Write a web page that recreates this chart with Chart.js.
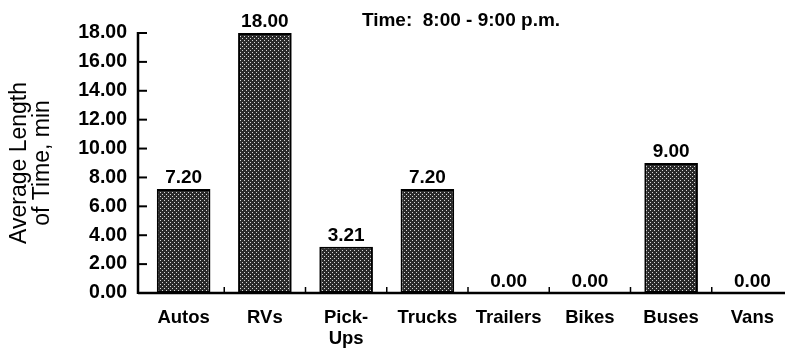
<!DOCTYPE html>
<html>
<head>
<meta charset="utf-8">
<script src="https://cdn.jsdelivr.net/npm/chart.js@4/dist/chart.umd.min.js"></script>
<style>
  html, body { margin: 0; padding: 0; background: #fff; overflow: hidden; }
  #wrap { position: relative; width: 795px; height: 356px; }
</style>
</head>
<body>
<div id="wrap"><canvas id="chart"></canvas></div>
<script>
// Average length of stay by vehicle type, 8:00 - 9:00 p.m.
const categories = ['Autos', 'RVs', 'Pick-Ups', 'Trucks', 'Trailers', 'Bikes', 'Buses', 'Vans'];
const tickLabels = ['Autos', 'RVs', ['Pick-', 'Ups'], 'Trucks', 'Trailers', 'Bikes', 'Buses', 'Vans'];
const avgMinutes = [7.20, 18.00, 3.21, 7.20, 0.00, 0.00, 9.00, 0.00];
const yTicks = [0, 2, 4, 6, 8, 10, 12, 14, 16, 18];
const chartTitle = 'Time:  8:00 - 9:00 p.m.';
const yTitle = ['Average Length', 'of Time, min'];

const FONT = '"Liberation Sans", Arial, Helvetica, sans-serif';

// halftone-like dotted fill for the bars
function makeDotPattern() {
  const c = document.createElement('canvas');
  c.width = 4; c.height = 4;
  const g = c.getContext('2d');
  g.fillStyle = '#2a2a2a';
  g.fillRect(0, 0, 4, 4);
  g.fillStyle = '#d8d8d8';
  g.fillRect(0, 0, 1, 1);
  g.fillRect(2, 2, 1, 1);
  return g.createPattern(c, 'repeat');
}

// axes with inward ticks, value labels above bars and the heading
const decorations = {
  id: 'decorations',
  afterDatasetsDraw(chart) {
    const { ctx, chartArea } = chart;
    const x = chart.scales.x, y = chart.scales.y;
    const axisX = chartArea.left - 5;
    const baseY = y.getPixelForValue(0);
    ctx.save();
    ctx.strokeStyle = '#000';
    ctx.lineCap = 'butt';

    // y axis line and inward ticks
    ctx.lineWidth = 2.5;
    ctx.beginPath();
    ctx.moveTo(axisX, y.getPixelForValue(yTicks[yTicks.length - 1]) - 1);
    ctx.lineTo(axisX, baseY + 1);
    ctx.stroke();
    ctx.lineWidth = 2;
    yTicks.forEach(v => {
      const py = y.getPixelForValue(v);
      ctx.beginPath();
      ctx.moveTo(axisX, py);
      ctx.lineTo(axisX + 9, py);
      ctx.stroke();
    });

    // x axis line
    ctx.lineWidth = 2.5;
    ctx.beginPath();
    ctx.moveTo(axisX, baseY);
    ctx.lineTo(chart.width, baseY);
    ctx.stroke();

    // small upward ticks between categories
    ctx.lineWidth = 1.5;
    for (let i = 0; i < categories.length - 1; i++) {
      const px = (x.getPixelForValue(i) + x.getPixelForValue(i + 1)) / 2;
      ctx.beginPath();
      ctx.moveTo(px, baseY);
      ctx.lineTo(px, baseY - 6);
      ctx.stroke();
    }

    // value labels
    ctx.fillStyle = '#000';
    ctx.font = 'bold 19px ' + FONT;
    ctx.textAlign = 'center';
    ctx.textBaseline = 'alphabetic';
    const meta = chart.getDatasetMeta(0);
    meta.data.forEach((bar, i) => {
      const v = avgMinutes[i];
      ctx.fillText(v.toFixed(2), bar.x, y.getPixelForValue(v) - 6);
    });

    // heading
    ctx.font = 'bold 19px ' + FONT;
    ctx.fillText(chartTitle, 461, 26);
    ctx.restore();
  }
};

new Chart(document.getElementById('chart'), {
  type: 'bar',
  data: {
    labels: tickLabels,
    datasets: [{
      data: avgMinutes,
      backgroundColor: makeDotPattern(),
      borderColor: '#000',
      borderWidth: 2,
      borderSkipped: false,
      barPercentage: 0.66,
      categoryPercentage: 1.0
    }]
  },
  options: {
    responsive: true,
    maintainAspectRatio: false,
    devicePixelRatio: 1,
    animation: false,
    layout: { padding: { top: 33, right: 2, bottom: 0, left: 0 } },
    plugins: {
      legend: { display: false },
      title: { display: false },
      tooltip: { enabled: false }
    },
    scales: {
      x: {
        type: 'category',
        grid: { display: false, drawTicks: false },
        border: { display: false },
        ticks: {
          color: '#000',
          font: { family: FONT, size: 18.5, weight: 'bold', lineHeight: 1.15 },
          padding: 14,
          maxRotation: 0,
          autoSkip: false
        },
        afterFit(scale) { scale.height = 63; }
      },
      y: {
        min: 0,
        max: 18,
        grid: { display: false, drawTicks: false },
        border: { display: false },
        ticks: {
          stepSize: 2,
          color: '#000',
          font: { family: FONT, size: 19.5, weight: 'bold' },
          padding: 16,
          callback: v => Number(v).toFixed(2)
        },
        title: {
          display: true,
          text: yTitle,
          color: '#000',
          font: { family: FONT, size: 23, weight: 'normal', lineHeight: 1.0 },
          padding: { top: 8, bottom: 0 }
        },
        afterFit(scale) { scale.width = 143; }
      }
    }
  },
  plugins: [decorations]
});
</script>
</body>
</html>
